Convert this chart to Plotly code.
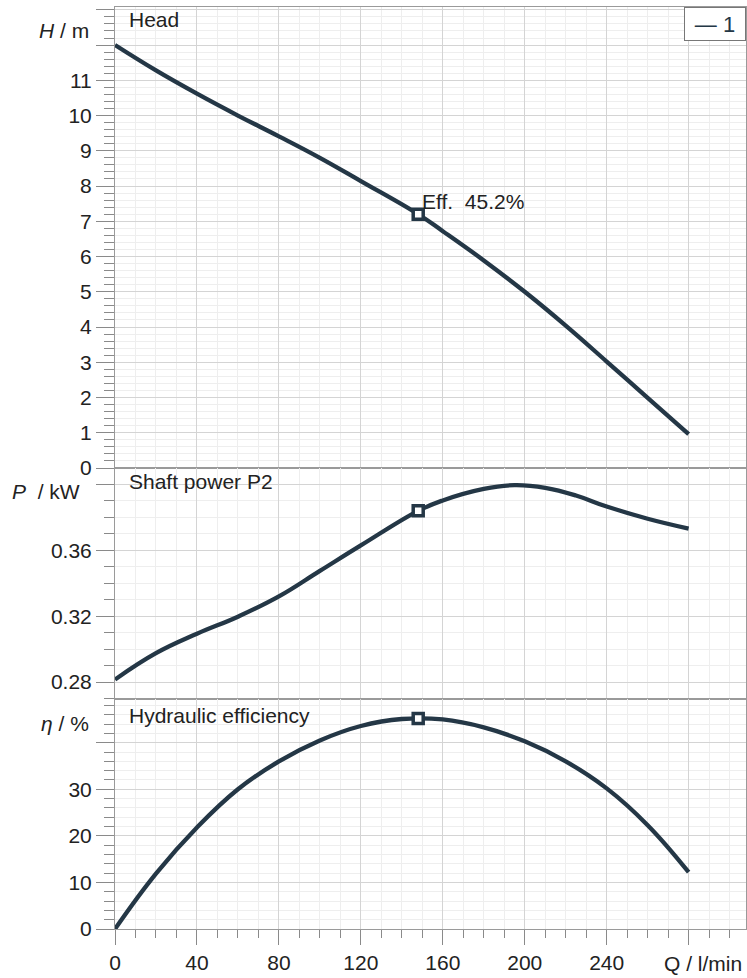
import plotly.graph_objects as go
from plotly.subplots import make_subplots

# ---- data ----
q_head = [0, 20, 40, 60, 80, 100, 120, 148, 160, 180, 200, 220, 240, 260, 280]
head_m = [12.0, 11.28, 10.62, 10.0, 9.41, 8.8, 8.14, 7.2, 6.72, 5.89, 5.0, 4.04, 3.02, 1.99, 0.96]

q_power = [0, 20, 40, 60, 80, 100, 120, 148, 160, 180, 195, 210, 225, 240, 260, 280]
power_kw = [0.2815, 0.2975, 0.3093, 0.3197, 0.3320, 0.3475, 0.3630, 0.3840, 0.3903, 0.3973, 0.3996, 0.3980, 0.3933, 0.3866, 0.3792, 0.3732]

q_eff = [0, 20, 40, 60, 80, 100, 120, 140, 160, 180, 200, 220, 240, 260, 280]
eff_pct = [0, 11.9, 21.8, 30.0, 36.0, 40.5, 43.6, 45.1, 45.0, 43.3, 40.3, 36.0, 30.2, 22.3, 12.2]

duty_q = 148
duty_head = 7.2
duty_power = 0.384
duty_eff = 45.2

x_ticks = [0, 40, 80, 120, 160, 200, 240, 280]
x_ticktext = ["0", "40", "80", "120", "160", "200", "240", ""]
h_ticks = list(range(0, 14))
h_ticktext = [str(v) for v in range(0, 12)] + ["", ""]
p_ticks = [0.28, 0.32, 0.36, 0.40]
p_ticktext = ["0.28", "0.32", "0.36", ""]
e_ticks = [0, 10, 20, 30, 40]
e_ticktext = ["0", "10", "20", "30", ""]

# ---- style ----
FONT = "Liberation Sans, Arial, sans-serif"
CURVE = "#243746"
TXT = "#222222"
GRID = "#d4d4d4"
MINOR = "#eeeeee"
LINE = "#9a9a9a"
TICKC = "#8a8a8a"

fig = make_subplots(rows=3, cols=1, shared_xaxes=True, vertical_spacing=0,
                    row_heights=[0.5, 0.25, 0.25])

def add_curve(xs, ys, mx, my, row):
    fig.add_trace(go.Scatter(x=xs, y=ys, mode="lines", line=dict(color=CURVE, width=4.3, shape="spline", smoothing=1.2),
                             showlegend=False, hoverinfo="skip"), row=row, col=1)
    fig.add_trace(go.Scatter(x=[mx], y=[my], mode="markers",
                             marker=dict(symbol="square", size=10, color="white", line=dict(color=CURVE, width=3.5)),
                             showlegend=False, hoverinfo="skip"), row=row, col=1)

add_curve(q_head, head_m, duty_q, duty_head, 1)
add_curve(q_power, power_kw, duty_q, duty_power, 2)
add_curve(q_eff, eff_pct, duty_q, duty_eff, 3)

tickfont = dict(family=FONT, size=21, color=TXT)

for r in (1, 2, 3):
    fig.update_xaxes(range=[0, 308], tickvals=x_ticks, ticktext=x_ticktext,
                     showgrid=True, gridcolor=GRID, gridwidth=1,
                     showline=True, mirror=True, linecolor=LINE, linewidth=1,
                     zeroline=False,
                     minor=dict(dtick=10, tick0=0, showgrid=True, gridcolor=MINOR, gridwidth=1,
                                ticks="outside" if r == 3 else "", ticklen=8, tickcolor=TICKC),
                     ticks="outside" if r == 3 else "", ticklen=15, tickcolor=TICKC,
                     showticklabels=(r == 3), tickfont=tickfont, row=r, col=1)

fig.update_yaxes(range=[0, 13.08], tickvals=h_ticks, ticktext=h_ticktext, row=1, col=1,
                 minor=dict(dtick=0.2, tick0=0, showgrid=True, gridcolor=MINOR, ticks="outside",
                            ticklen=10, tickcolor=TICKC))
fig.update_yaxes(range=[0.27, 0.41], tickvals=p_ticks, ticktext=p_ticktext, row=2, col=1,
                 minor=dict(dtick=0.01, tick0=0, showgrid=True, gridcolor=MINOR, ticks="outside",
                            ticklen=10, tickcolor=TICKC))
fig.update_yaxes(range=[0, 49.5], tickvals=e_ticks, ticktext=e_ticktext, row=3, col=1,
                 minor=dict(dtick=2, tick0=0, showgrid=True, gridcolor=MINOR, ticks="outside",
                            ticklen=10, tickcolor=TICKC))
fig.update_yaxes(showgrid=True, gridcolor=GRID, gridwidth=1, zeroline=False,
                 showline=True, mirror=True, linecolor=LINE, linewidth=1,
                 ticks="outside", ticklen=18, tickcolor=TICKC, tickfont=tickfont)

L, T, W, H_ = 115, 7, 631, 922

def px(x):
    return (x - L) / W

def py(y):
    return (T + H_ - y) / H_

anns = [
    dict(text="<i>H</i> / m", x=px(91), y=py(31), xanchor="right", size=21),
    dict(text="<i>P</i>\u00a0\u00a0/ kW", x=px(82), y=py(491), xanchor="right", size=21),
    dict(text="<i>η</i> / %", x=px(91), y=py(723), xanchor="right", size=21),
    dict(text="Head", x=px(127), y=py(19.5), xanchor="left", size=21),
    dict(text="Shaft power P2", x=px(127), y=py(482), xanchor="left", size=21),
    dict(text="Hydraulic efficiency", x=px(127), y=py(715), xanchor="left", size=21),
    dict(text="Eff.\u00a0\u00a045.2%", x=px(420), y=py(201), xanchor="left", size=21),
    dict(text="Q / l/min", x=px(744), y=py(963), xanchor="right", size=21),
]
for a in anns:
    fig.add_annotation(text=a["text"], x=a["x"], y=a["y"], xref="paper", yref="paper",
                       xanchor=a["xanchor"], yanchor="middle", showarrow=False,
                       font=dict(family=FONT, size=a["size"], color=TXT))

# legend box
fig.add_annotation(text="—\u00a01", x=1, y=1, xref="paper", yref="paper",
                   xanchor="right", yanchor="top", showarrow=False, width=58, height=30,
                   bordercolor="#777777", borderwidth=1, borderpad=1, bgcolor="white",
                   font=dict(family=FONT, size=22, color=CURVE))

fig.update_layout(width=747, height=978, margin=dict(l=L, r=1, t=T, b=49),
                  paper_bgcolor="white", plot_bgcolor="white",
                  font=dict(family=FONT, color=TXT), showlegend=False)

fig.write_html("out.html", config={"displayModeBar": False},
               post_script="document.body.style.margin='0px';document.body.style.overflow='hidden';")
